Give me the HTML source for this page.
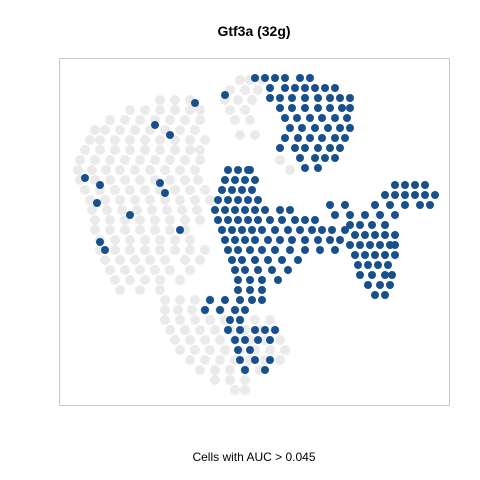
<!DOCTYPE html>
<html><head><meta charset="utf-8"><style>
html,body{margin:0;padding:0;background:#fff;width:480px;height:480px;overflow:hidden}
svg{display:block;font-family:"Liberation Sans",Arial,sans-serif}
</style></head><body>
<svg id="chart" width="480" height="480">
<text x="254" y="36" text-anchor="middle" font-size="14" font-weight="bold">Gtf3a (32g)</text>
<rect x="59.5" y="58.5" width="390" height="347" fill="#fff" stroke="#c8c8c8"/>
<g id="grey"></g>
<g id="blue"></g>
<text x="254" y="461" text-anchor="middle" font-size="12">Cells with AUC &gt; 0.045</text>
</svg>
<script>
// embedding coordinates (tSNE units mapped 59..449 x, 58..405 y)
const greyRows = [
[80,[240,250,262]],[90,[230,245,258]],[100,[160,175,190,225,238,252]],[110,[130,145,160,175,190,200,230,245]],
[120,[110,125,140,155,170,185,200,235,250]],[130,[95,105,120,135,150,165,180,195]],[135,[240,255]],
[140,[90,100,115,130,145,160,175,190,205]],[150,[85,100,115,130,145,160,175,190,200]],
[160,[80,95,110,125,140,155,170,185,200,280]],[170,[78,92,106,120,135,150,165,180,195,290]],
[180,[80,95,110,125,140,155,170,185,198]],[190,[85,100,115,130,145,160,175,190,205]],
[200,[90,105,120,135,150,165,180,195,210]],[210,[92,107,122,137,152,167,182,197]],
[220,[95,110,125,140,155,170,185,200]],[230,[95,110,125,140,155,170,185]],
[240,[100,115,130,145,160,175,190]],[250,[100,115,130,145,160,175,190,205]],
[260,[105,120,135,150,165,185,200]],[270,[110,125,140,155,170,190]],[280,[115,130,145,160,180]],
[290,[120,140,160]],[300,[165,180,195,210]],[310,[165,178,192,205,220,235]],
[320,[165,180,195,210,225,240,255,270]],[330,[170,185,200,215,230,245,260,275]],
[340,[175,190,205,220,235,250,265,280]],[350,[180,195,210,225,240,255,270,285]],
[360,[190,205,220,235,250,265,280]],[370,[200,215,230,245,260]],[380,[215,230,245]],[390,[235,245]]
];
const blueRows = [
[78,[255,265,275,285,300,310]],[88,[270,285,295,305,315,325,335]],[95,[225]],[98,[270,280,292,305,318,330,340,350]],
[103,[195]],[108,[280,292,305,318,330,342,350]],[118,[285,297,310,322,335,347]],[125,[155]],
[128,[290,302,315,328,340,350]],[135,[170]],[138,[285,298,310,322,335,345]],[148,[280,295,305,318,330,340]],
[158,[300,315,325,335]],[168,[305,318]],[170,[228,238,248,250]],[178,[85]],[180,[225,235,245,255]],
[183,[160]],[185,[100,395,405,415,425]],[190,[222,232,242,252]],[193,[165]],[195,[385,395,405,415,425,435]],
[200,[218,228,238,248,258]],[203,[97]],[205,[330,345,375,390,405,420,430]],[210,[215,225,235,245,255,265,280,290]],
[215,[130,335,350,365,380,395]],[220,[218,228,238,248,258,270,282,295,305,315]],
[225,[350,360,372,385]],[230,[180,222,232,242,252,262,275,288,300,312,322,332,345]],
[235,[355,365,375,385,395]],[240,[225,235,245,255,268,280,292,305,318,330,340]],[242,[100]],
[245,[350,360,370,380,390,395]],[250,[105,228,238,250,262,275,290,305,320,335]],
[255,[355,365,375,385,395]],[260,[232,242,255,268,282,298]],[265,[358,368,378,388]],
[270,[235,245,258,272,288]],[275,[360,372,385,392]],[280,[238,250,262,278]],[285,[368,380,390]],
[290,[238,250,262]],[295,[375,385]],[300,[210,225,240,252,262]],[310,[205,220,235,245]],
[320,[230,240]],[330,[228,240,255,265,275]],[340,[235,245,258,270]],[350,[238,250]],
[360,[240,255,270]],[370,[245,265]]
];
const xDomain=[59,449], yDomain=[58,405];
const xRange=[59,449], yRange=[58,405];
function sx(v){return xRange[0]+(v-xDomain[0])/(xDomain[1]-xDomain[0])*(xRange[1]-xRange[0]);}
function sy(v){return yRange[0]+(v-yDomain[0])/(yDomain[1]-yDomain[0])*(yRange[1]-yRange[0]);}
const NS="http://www.w3.org/2000/svg";
function draw(rows,gid,r,fill,op,name){
  const g=document.getElementById(gid);
  rows.forEach(row=>{row[1].forEach(x=>{
    const c=document.createElementNS(NS,"circle");
    c.setAttribute("cx",sx(x));c.setAttribute("cy",sy(row[0]));
    c.setAttribute("r",r);c.setAttribute("fill",fill);c.setAttribute("fill-opacity",op);
    
    
    g.appendChild(c);
  });});
}
draw(greyRows,"grey",5,"#e6e6e6",0.85,"grey-cell");
draw(blueRows,"blue",4,"#17508c",1,"blue-cell");
</script>
</body></html>
